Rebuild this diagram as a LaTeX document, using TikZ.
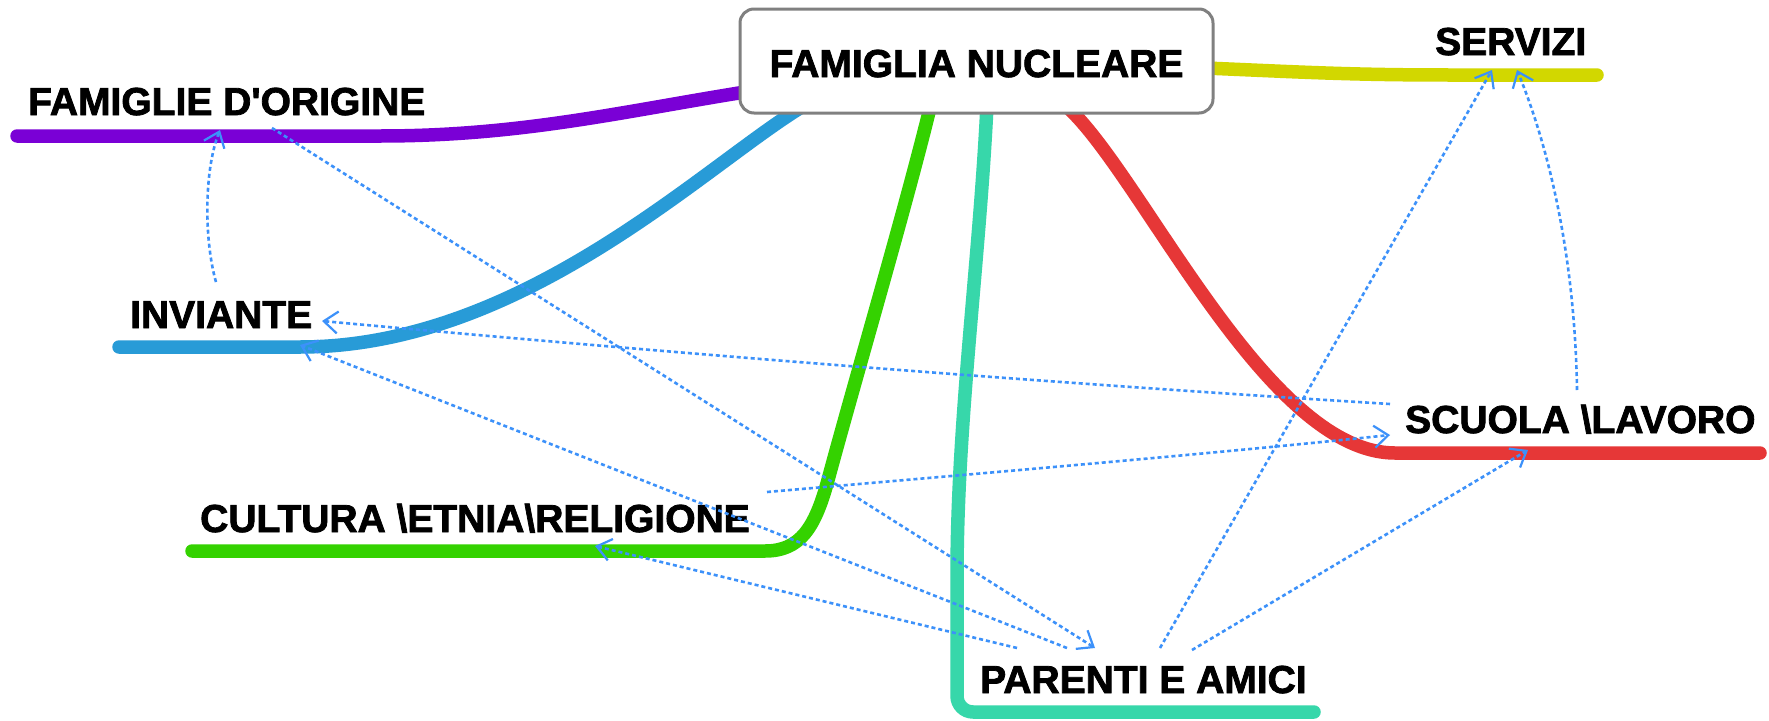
\documentclass[tikz,border=0pt]{standalone}
\usepackage{fontspec}
\setmainfont{Liberation Sans}[BoldFeatures={FakeBold=2}]
\usetikzlibrary{arrows.meta}
\definecolor{cPur}{RGB}{122,0,214}
\definecolor{cBlu}{RGB}{40,155,215}
\definecolor{cGrn}{RGB}{52,210,0}
\definecolor{cTea}{RGB}{55,215,170}
\definecolor{cRed}{RGB}{230,55,55}
\definecolor{cYel}{RGB}{210,215,0}
\definecolor{cLink}{RGB}{60,145,250}
\definecolor{cBox}{RGB}{128,128,128}
\pgfdeclarelayer{bg}
\pgfsetlayers{bg,main}
\begin{document}
\begin{tikzpicture}[x=1pt,y=-1pt,
  branch/.style={line width=13.5pt, line cap=round, line join=round},
  lbl/.style={font=\fontsize{39}{41}\selectfont\bfseries, inner sep=0pt, anchor=base west},
  centrebox/.style={draw=cBox, fill=white, line width=3pt, rounded corners=14pt,
    minimum width=473pt, minimum height=104pt, inner sep=0pt,
    font=\fontsize{39}{41}\selectfont\bfseries, text height=32pt, text depth=0pt},
  link/.style={draw=cLink, line width=2.6pt, dash pattern=on 4pt off 3pt,
    -{Straight Barb[length=14pt,width=22pt,line width=2.2pt]}},
]
\useasboundingbox (0,0) rectangle (1769,720);

% labels
\node[centrebox] (fn) at (976.5,61) {FAMIGLIA NUCLEARE};
\node[lbl] (fo) at (28,115) {FAMIGLIE D\textquotesingle ORIGINE};
\node[lbl] (se) at (1435,55) {SERVIZI};
\node[lbl] (in) at (130,328) {INVIANTE};
\node[lbl] (cu) at (200,532) {CULTURA \textbackslash ETNIA\textbackslash RELIGIONE};
\node[lbl] (sc) at (1405,433) {SCUOLA \textbackslash LAVORO};
\node[lbl] (pa) at (980,693) {PARENTI E AMICI};

% branch end points
\coordinate (foE) at (17,136);
\coordinate (inE) at (119,347);
\coordinate (cuE) at (192,551);
\coordinate (paE) at (1314,712);
\coordinate (scE) at (1760,453);
\coordinate (seE) at (1597,75);

\begin{pgfonlayer}{bg}
\fill[white] (0,0) rectangle (1769,720);
\draw[branch,cPur] (745,92) .. controls (620,112) and (520,136) .. (380,136) -- (foE);
\draw[branch,cBlu] (800,108) .. controls (700,170) and (520,347) .. (300,347) -- (inE);
\draw[branch,cGrn] (930,108) .. controls (905,210) and (855,380) .. (828,480)
   .. controls (815,528) and (800,551) .. (765,551) -- (cuE);
\draw[branch,cTea,rounded corners=16pt] (987,105) .. controls (980,250) and (960,400) .. (957,560)
   -- (957,712) -- (paE);
\draw[branch,cRed] (1065,105) .. controls (1140,170) and (1265,453) .. (1395,453) -- (scE);
\draw[branch,cYel] (1205,68) .. controls (1300,72) and (1350,75) .. (1450,75) -- (seE);
\end{pgfonlayer}

% link end points
\coordinate (inUp)   at (216,282);
\coordinate (foIn)   at (220,130);
\coordinate (foOut)  at (272,128);
\coordinate (paInB)  at (1095,648);
\coordinate (scOutC) at (1390,404);
\coordinate (inInC)  at (322,321);
\coordinate (paOutD) at (1067,648);
\coordinate (inInD)  at (300,345);
\coordinate (paOutE) at (1017,648);
\coordinate (cuInE)  at (595,546);
\coordinate (cuOutF) at (767,492);
\coordinate (scInF)  at (1390,435);
\coordinate (paOutG) at (1160,648);
\coordinate (seInG)  at (1492,70);
\coordinate (paOutH) at (1192,650);
\coordinate (scInH)  at (1528,450);
\coordinate (scOutI) at (1577,390);
\coordinate (seInI)  at (1517,70);

\draw[link] (inUp) .. controls (204,240) and (204,170) .. (foIn);
\draw[link] (foOut) -- (paInB);
\draw[link] (scOutC) .. controls (1000,380) and (650,351) .. (inInC);
\draw[link] (paOutD) -- (inInD);
\draw[link] (paOutE) -- (cuInE);
\draw[link] (cuOutF) .. controls (950,476) and (1200,455) .. (scInF);
\draw[link] (paOutG) -- (seInG);
\draw[link] (paOutH) -- (scInH);
\draw[link] (scOutI) .. controls (1575,260) and (1550,150) .. (seInI);
\end{tikzpicture}
\end{document}
